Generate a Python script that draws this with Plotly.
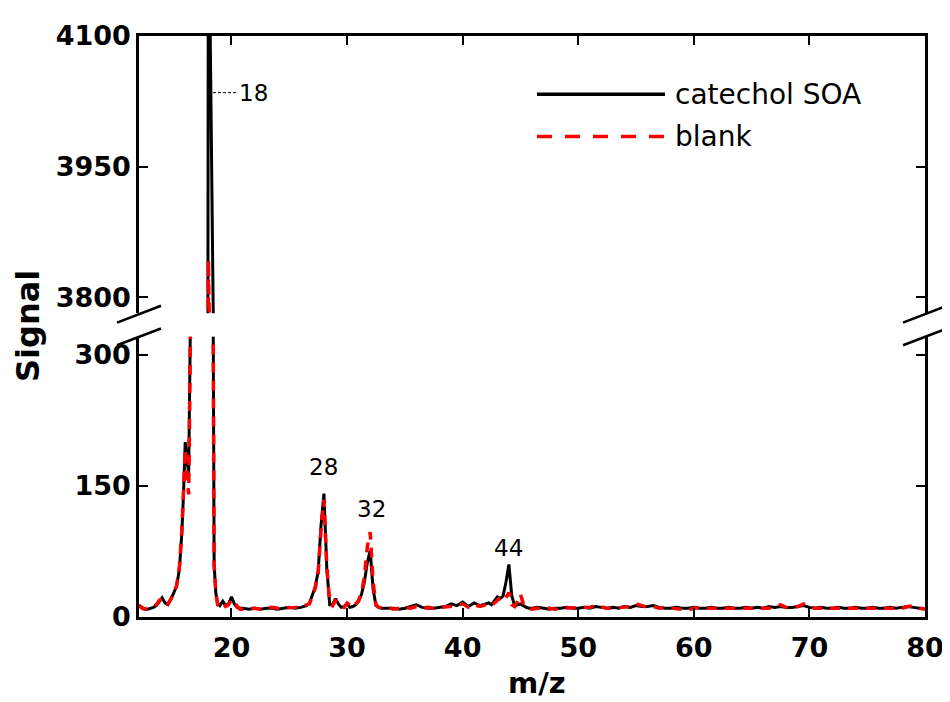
import plotly.graph_objects as go

# ---------------- data ----------------
mz_1 = [12.0, 12.25, 12.5, 12.75, 13.0, 13.25, 13.5, 13.75, 14.0, 14.25, 14.5, 14.75, 15.0, 15.25, 15.5]
soa_1 = [13, 11, 9, 9, 10, 11, 13, 18, 22, 16, 14, 20, 27, 35, 55]
blank_1 = [14, 10, 9, 10, 10, 12, 14, 19, 21, 15, 15, 21, 26, 36, 58]

mz_2 = [15.7, 15.85, 16.0, 16.15, 16.3, 16.45, 16.6, 17.0, 17.4, 17.8, 18.0, 18.4, 18.5, 18.65, 18.8,
        19.0, 19.25, 19.5, 19.75, 20.0, 20.25, 20.5, 20.75]
soa_2 = [95, 140, 200, 178, 165, 340, 700, 1000, 800, 1500, 4300, 400, 60, 27, 16,
         13, 18, 13, 15, 23, 15, 11, 10]
blank_2 = [98, 145, 192, 160, 140, 320, 680, 980, 780, 1400, 3843, 380, 58, 28, 14,
           12, 16, 12, 14, 20, 17, 12, 9]

mz_3 = [21.0, 21.5, 22.0, 22.5, 23.0, 23.5, 24.0, 24.5, 25.0, 25.5, 26.0, 26.5]
soa_3 = [10, 9, 10, 9, 10, 10, 9, 10, 11, 10, 11, 13]
blank_3 = [9, 10, 10, 9, 10, 11, 10, 10, 11, 11, 12, 14]

mz_4 = [26.75, 27.0, 27.25, 27.5, 27.75, 28.0, 28.25, 28.5, 28.75, 29.0, 29.25, 29.5, 29.75,
        30.0, 30.25, 30.5, 30.75, 31.0, 31.25, 31.5, 31.75, 32.0, 32.25, 32.5, 32.75, 33.0]
soa_4 = [16, 25, 35, 52, 105, 141, 55, 14, 14, 21, 15, 11, 12,
         15, 11, 12, 14, 18, 26, 40, 62, 76, 32, 13, 11, 10]
blank_4 = [15, 24, 33, 50, 100, 134, 58, 16, 13, 19, 17, 12, 11,
           16, 13, 11, 15, 19, 28, 46, 80, 97, 40, 14, 11, 10]

mz_5 = [33.5, 34.0, 34.5, 35.0, 35.5, 36.0, 36.5, 37.0, 37.5, 38.0, 38.5, 39.0, 39.5, 40.0,
        40.5, 41.0, 41.5, 42.0]
soa_5 = [10, 10, 9, 10, 12, 14, 11, 10, 10, 11, 12, 15, 13, 17, 12, 16, 13, 15]
blank_5 = [11, 9, 10, 11, 10, 12, 10, 11, 10, 11, 11, 13, 13, 15, 11, 14, 12, 14]

mz_6 = [42.25, 42.5, 42.75, 43.0, 43.25, 43.5, 43.75, 44.0, 44.25, 44.5, 44.75, 45.0, 45.25, 45.5, 45.75]
soa_6 = [16, 14, 18, 23, 21, 24, 40, 60, 24, 13, 14, 15, 13, 11, 10]
blank_6 = [15, 13, 16, 19, 22, 25, 22, 28, 14, 12, 18, 26, 15, 11, 10]

mz_7 = [46.0 + 0.5 * i for i in range(69)]
soa_7 = [10, 11, 10, 9, 10, 10, 11, 10, 10, 11,
         10, 12, 11, 10, 11, 10, 12, 11, 13, 12,
         12, 13, 11, 10, 10, 11, 10, 10, 11, 10,
         10, 11, 10, 10, 11, 10, 10, 11, 10, 11,
         10, 12, 11, 12, 11, 11, 12, 13, 11, 10,
         11, 10, 10, 11, 10, 10, 11, 10, 10, 11,
         10, 10, 11, 10, 11, 12, 11, 10, 9]
blank_7 = [9, 10, 11, 10, 9, 10, 10, 11, 10, 10,
           11, 13, 11, 10, 10, 11, 11, 12, 15, 13,
           11, 12, 10, 11, 10, 10, 9, 8, 10, 11,
           10, 10, 11, 10, 10, 11, 10, 10, 11, 10,
           11, 10, 12, 14, 11, 10, 12, 15, 12, 10,
           10, 11, 10, 10, 11, 10, 10, 11, 10, 10,
           11, 10, 10, 11, 10, 12, 13, 10, 9]

mz = mz_1 + mz_2 + mz_3 + mz_4 + mz_5 + mz_6 + mz_7
soa = soa_1 + soa_2 + soa_3 + soa_4 + soa_5 + soa_6 + soa_7
blank = blank_1 + blank_2 + blank_3 + blank_4 + blank_5 + blank_6 + blank_7
assert len(mz) == len(soa) == len(blank)

series_names = ["catechol SOA", "blank"]
x_ticks = [20, 30, 40, 50, 60, 70, 80]
y_low_ticks = [0, 150, 300]
y_high_ticks = [3800, 3950, 4100]
peak_labels = [("28", 27.93, 171), ("32", 32.09, 124), ("44", 43.95, 79)]

# ---------------- geometry (reference pixels; page body has an 8px margin) ----------------
OFF = 8
L, R, T, B = 139, 925, 28, 617
def px(x):
    return (x - L) / (R - L)
def py(y):
    return (B - y) / (B - T)

FONT = "DejaVu Sans, Verdana, sans-serif"
BLACK = "#000000"
RED = "#ff0000"

fig = go.Figure()
for xa, ya in (("x", "y"), ("x2", "y2")):
    fig.add_trace(go.Scatter(x=mz, y=soa, mode="lines", name=series_names[0],
                             line=dict(color=BLACK, width=3), xaxis=xa, yaxis=ya,
                             showlegend=False))
    fig.add_trace(go.Scatter(x=mz, y=blank, mode="lines", name=series_names[1],
                             line=dict(color=RED, width=3.5, dash="10px,8px"), xaxis=xa, yaxis=ya,
                             showlegend=False))

axis_common = dict(showline=True, linecolor=BLACK, linewidth=2.5, ticks="inside",
                   ticklen=9, tickwidth=2, tickcolor=BLACK, showgrid=False, zeroline=False,
                   tickfont=dict(family=FONT, size=27, color=BLACK, weight="bold"))

fig.update_layout(
    width=950, height=702,
    margin=dict(l=L - OFF, r=950 - (R - OFF), t=T - OFF, b=702 - (B - OFF)),
    plot_bgcolor="white", paper_bgcolor="white",
    showlegend=False,
    xaxis=dict(domain=[0, 1], range=[12, 80], anchor="y", tickvals=x_ticks,
               ticklabelstandoff=5, **axis_common),
    xaxis2=dict(domain=[0, 1], range=[12, 80], anchor="y2", matches="x", side="top",
                tickvals=x_ticks[:-1], showticklabels=False, **axis_common),
    yaxis=dict(domain=[0, py(333)], range=[0, 320.2], anchor="x", tickvals=y_low_ticks,
               mirror="ticks", **axis_common),
    yaxis2=dict(domain=[py(309), 1], range=[3781.9, 4100], anchor="x2", tickvals=y_high_ticks,
                mirror="ticks", **axis_common),
)

shapes = []
# axis-break marks
for cx in (L, R):
    for cy in (310, 333):
        shapes.append(dict(type="line", xref="paper", yref="paper",
                           x0=px(cx - 22), y0=py(cy + 8.5), x1=px(cx + 22), y1=py(cy - 8.5),
                           line=dict(color=BLACK, width=2.5)))
# legend samples
shapes.append(dict(type="line", xref="paper", yref="paper", x0=px(537), x1=px(665),
                   y0=py(87), y1=py(87), line=dict(color=BLACK, width=3.5)))
shapes.append(dict(type="line", xref="paper", yref="paper", x0=px(537), x1=px(665),
                   y0=py(130), y1=py(130), line=dict(color=RED, width=3.5, dash="15px,13px")))
# dashed leader to the m/z 18 label
shapes.append(dict(type="line", xref="x2", yref="y2", x0=18.4, x1=20.4, y0=4035, y1=4035,
                   line=dict(color=BLACK, width=1, dash="3px,2px")))
fig.update_layout(shapes=shapes)

ann = []
ann.append(dict(text="18", x=20.45, y=4035, xref="x2", yref="y2", xanchor="left", yanchor="middle",
                showarrow=False, font=dict(family=FONT, size=23, color=BLACK)))
for t, xv, yv in peak_labels:
    ann.append(dict(text=t, x=xv, y=yv, xref="x", yref="y", xanchor="center", yanchor="middle",
                    showarrow=False, font=dict(family=FONT, size=23, color=BLACK)))
ann.append(dict(text=series_names[0], x=px(673), y=py(87), xref="paper", yref="paper",
                xanchor="left", yanchor="middle", showarrow=False,
                font=dict(family=FONT, size=28, color=BLACK)))
ann.append(dict(text=series_names[1], x=px(673), y=py(130), xref="paper", yref="paper",
                xanchor="left", yanchor="middle", showarrow=False,
                font=dict(family=FONT, size=28, color=BLACK)))
ann.append(dict(text="m/z", x=px(537), y=py(684), xref="paper", yref="paper",
                xanchor="center", yanchor="middle", showarrow=False,
                font=dict(family=FONT, size=29, color=BLACK, weight="bold")))
ann.append(dict(text="Signal", x=px(28), y=py(322), xref="paper", yref="paper",
                xanchor="center", yanchor="middle", textangle=-90, showarrow=False,
                font=dict(family=FONT, size=32, color=BLACK, weight="bold")))
fig.update_layout(annotations=ann)

fig.write_html("out.html")
